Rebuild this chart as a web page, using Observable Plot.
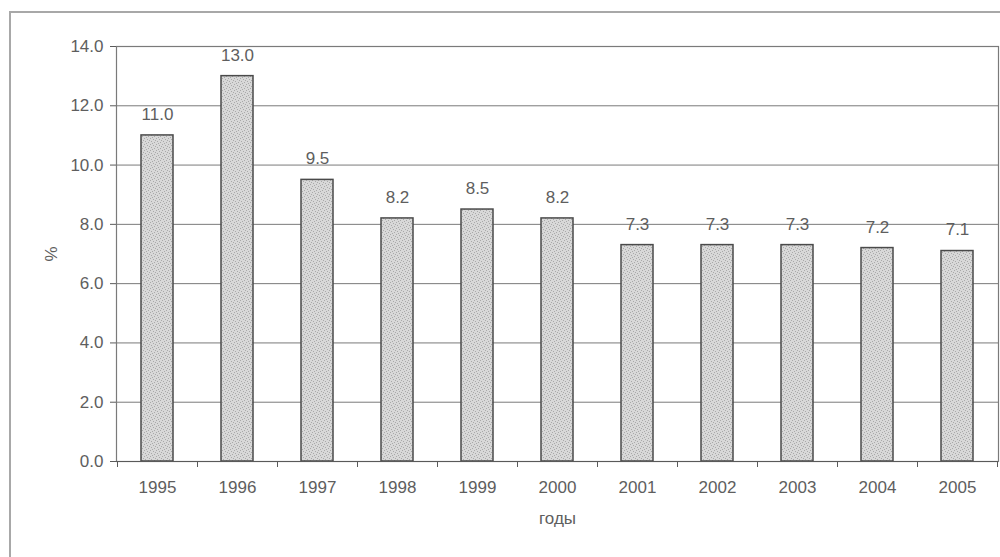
<!DOCTYPE html>
<html>
<head>
<meta charset="utf-8">
<script src="https://cdn.jsdelivr.net/npm/d3@7"></script>
<script src="https://cdn.jsdelivr.net/npm/@observablehq/plot@0.6"></script>
<style>
  html, body { margin: 0; padding: 0; background: #fff; }
  #wrap { position: relative; width: 1000px; height: 557px; overflow: hidden; }
  #outer { position: absolute; left: 9px; top: 11px; width: 1000px; height: 600px;
           border-left: 2px solid #a8a8a8; border-top: 2px solid #a8a8a8; }
  svg { display: block; }
</style>
</head>
<body>
<div id="wrap"><div id="outer"></div></div>
<script>
// Annual values, %
const years = ["1995", "1996", "1997", "1998", "1999", "2000", "2001", "2002", "2003", "2004", "2005"];
const values = [11.0, 13.0, 9.5, 8.2, 8.5, 8.2, 7.3, 7.3, 7.3, 7.2, 7.1];
const yTicks = [0, 2, 4, 6, 8, 10, 12, 14];

const data = years.map((year, i) => ({year, value: values[i]}));
const ink = "#5e5e5e";

const chart = Plot.plot({
  width: 1000,
  height: 557,
  marginLeft: 116,
  marginRight: 2,
  marginTop: 46,
  marginBottom: 96,
  style: {fontFamily: "'Liberation Sans', Arial, sans-serif", fontSize: "17px", color: ink, background: "transparent"},
  x: {domain: years, paddingInner: 0.6, paddingOuter: 0.3, align: 0.5},
  y: {domain: [0, 14]},
  marks: [
    Plot.gridY(yTicks, {stroke: "#7a7a7a", strokeOpacity: 1, strokeWidth: 1}),
    Plot.frame({stroke: "#7a7a7a", strokeWidth: 1.2}),
    Plot.barY(data, {x: "year", y: "value", fill: "url(#stipple)", stroke: "#4a4a4a", strokeWidth: 1.5}),
    Plot.text(data, {x: "year", y: "value", text: d => d.value.toFixed(1), dy: -21, fill: ink, fontSize: 17}),
    // category separators on the horizontal axis
    Plot.ruleX(data, {x: "year", y1: 0, y2: 0, dx: -40, insetBottom: -6, stroke: "#5a5a5a"}),
    Plot.ruleX(data.slice(-1), {x: "year", y1: 0, y2: 0, dx: 40, insetBottom: -6, stroke: "#5a5a5a"}),
    Plot.ruleY([0], {stroke: "#5a5a5a", strokeWidth: 1.2}),
    Plot.axisY(yTicks, {tickFormat: d => d.toFixed(1), tickSize: 6, tickPadding: 7, stroke: "#5a5a5a",
      label: "%", labelAnchor: "center", labelArrow: "none", labelOffset: 72, fontSize: 17}),
    Plot.axisX({tickSize: 0, tickPadding: 19, fontSize: 17,
      label: "годы", labelAnchor: "center", labelArrow: "none", labelOffset: 62})
  ]
});

// Stippled fill for the bars: a small tile of light gray with scattered darker dots
const defs = d3.select(chart).insert("defs", ":first-child");
const pat = defs.append("pattern")
  .attr("id", "stipple").attr("patternUnits", "userSpaceOnUse")
  .attr("width", 6).attr("height", 6);
pat.append("rect").attr("width", 6).attr("height", 6).attr("fill", "#d8d8d8");
const dots = [[0, 0], [3, 1], [1, 3], [4, 4], [5, 2], [2, 5]];
pat.selectAll("rect.dot").data(dots).join("rect")
  .attr("class", "dot").attr("x", d => d[0]).attr("y", d => d[1])
  .attr("width", 1).attr("height", 1).attr("fill", "#a9a9a9");

document.getElementById("wrap").prepend(chart);
</script>
</body>
</html>
